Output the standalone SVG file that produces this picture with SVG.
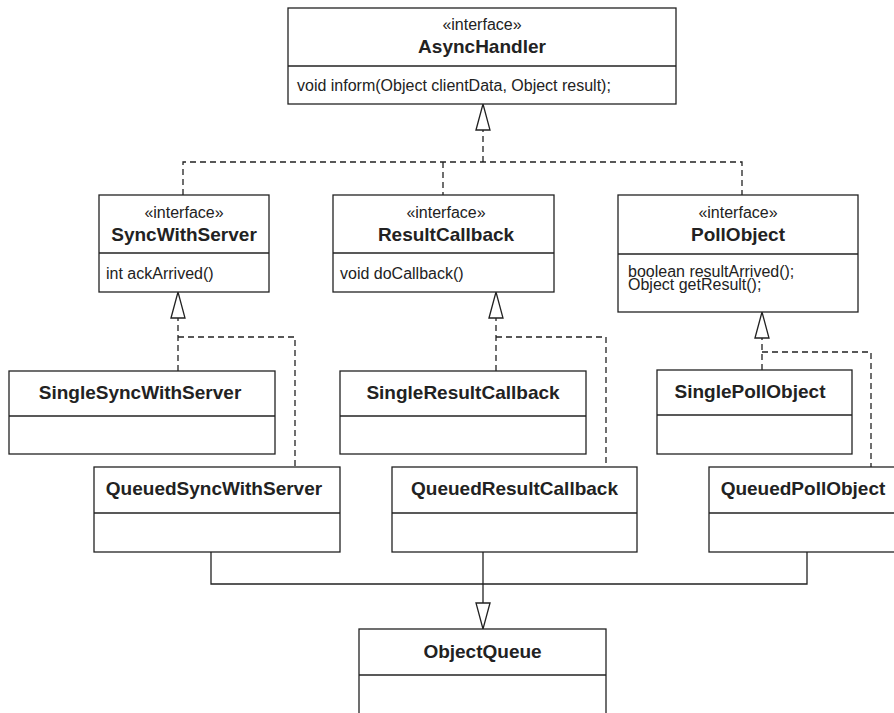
<svg xmlns="http://www.w3.org/2000/svg" width="894" height="713" viewBox="0 0 894 713">
  <style>
    .box { fill: #ffffff; stroke: #222222; stroke-width: 1.3; }
    .sep { stroke: #222222; stroke-width: 1.3; fill: none; }
    .st { font-family: "Liberation Sans", Arial, sans-serif; font-size: 16px; fill: #222222; text-anchor: middle; }
    .nm { font-family: "Liberation Sans", Arial, sans-serif; font-size: 19px; font-weight: bold; fill: #222222; text-anchor: middle; }
    .op { font-family: "Liberation Sans", Arial, sans-serif; font-size: 16px; fill: #222222; }
    .real { fill: none; stroke: #222222; stroke-width: 1.3; stroke-dasharray: 6 4; }
    .assoc { fill: none; stroke: #222222; stroke-width: 1.3; }
  </style>
  <defs>
    <!-- hollow triangle head for realization / generalization -->
    <marker id="hollow" markerUnits="userSpaceOnUse" markerWidth="28" markerHeight="16" viewBox="-1 -1 28 16" refX="26" refY="7" orient="auto">
      <path d="M0,0 L26,7 L0,14 Z" fill="#ffffff" stroke="#222222" stroke-width="1.3" stroke-dasharray="none"/>
    </marker>
  </defs>

  <rect width="894" height="713" fill="#ffffff"/>

  <!-- connectors -->
  <g id="connectors">
    <path class="real" d="M483,162 V104" marker-end="url(#hollow)"/>
    <path class="real" d="M183,195 V162 H742 V195 M443,162 V195"/>

    <path class="real" d="M178,371 V292" marker-end="url(#hollow)"/>
    <path class="real" d="M178,337 H295 V467"/>

    <path class="real" d="M496,371 V292" marker-end="url(#hollow)"/>
    <path class="real" d="M496,337 H606 V467"/>

    <path class="real" d="M762,370 V312" marker-end="url(#hollow)"/>
    <path class="real" d="M762,352 H871 V467"/>

    <path class="assoc" d="M211,552 V584 H807 V552"/>
    <path class="assoc" d="M483,552 V629" marker-end="url(#hollow)"/>
  </g>

  <!-- interfaces -->
  <g id="AsyncHandler">
    <rect class="box" x="288" y="8" width="388" height="96"/>
    <line class="sep" x1="288" y1="66" x2="676" y2="66"/>
    <text class="st" x="482" y="30">«interface»</text>
    <text class="nm" x="482" y="53">AsyncHandler</text>
    <text class="op" x="297" y="91">void inform(Object clientData, Object result);</text>
  </g>

  <g id="SyncWithServer">
    <rect class="box" x="99" y="195" width="170" height="97"/>
    <line class="sep" x1="99" y1="253" x2="269" y2="253"/>
    <text class="st" x="184" y="218">«interface»</text>
    <text class="nm" x="184" y="241">SyncWithServer</text>
    <text class="op" x="106" y="279">int ackArrived()</text>
  </g>

  <g id="ResultCallback">
    <rect class="box" x="333" y="195" width="221" height="97"/>
    <line class="sep" x1="333" y1="253" x2="554" y2="253"/>
    <text class="st" x="446" y="218">«interface»</text>
    <text class="nm" x="446" y="241">ResultCallback</text>
    <text class="op" x="340" y="279">void doCallback()</text>
  </g>

  <g id="PollObject">
    <rect class="box" x="618" y="195" width="240" height="117"/>
    <line class="sep" x1="618" y1="254" x2="858" y2="254"/>
    <text class="st" x="738" y="218">«interface»</text>
    <text class="nm" x="738" y="241">PollObject</text>
    <text class="op" x="628" y="277">boolean resultArrived();</text>
    <text class="op" x="628" y="290">Object getResult();</text>
  </g>

  <!-- implementing classes -->
  <g id="SingleSyncWithServer">
    <rect class="box" x="9" y="371" width="266" height="83"/>
    <line class="sep" x1="9" y1="416" x2="275" y2="416"/>
    <text class="nm" x="140" y="399">SingleSyncWithServer</text>
  </g>

  <g id="SingleResultCallback">
    <rect class="box" x="340" y="371" width="246" height="83"/>
    <line class="sep" x1="340" y1="416" x2="586" y2="416"/>
    <text class="nm" x="463" y="399">SingleResultCallback</text>
  </g>

  <g id="SinglePollObject">
    <rect class="box" x="657" y="370" width="195" height="84"/>
    <line class="sep" x1="657" y1="415" x2="852" y2="415"/>
    <text class="nm" x="750" y="398">SinglePollObject</text>
  </g>

  <g id="QueuedSyncWithServer">
    <rect class="box" x="94" y="467" width="246" height="85"/>
    <line class="sep" x1="94" y1="513" x2="340" y2="513"/>
    <text class="nm" x="214" y="495">QueuedSyncWithServer</text>
  </g>

  <g id="QueuedResultCallback">
    <rect class="box" x="392" y="467" width="245" height="85"/>
    <line class="sep" x1="392" y1="513" x2="637" y2="513"/>
    <text class="nm" x="514.5" y="495">QueuedResultCallback</text>
  </g>

  <g id="QueuedPollObject">
    <rect class="box" x="709" y="467" width="190" height="85"/>
    <line class="sep" x1="709" y1="513" x2="899" y2="513"/>
    <text class="nm" x="803" y="495">QueuedPollObject</text>
  </g>

  <g id="ObjectQueue">
    <rect class="box" x="359" y="629" width="247" height="95"/>
    <line class="sep" x1="359" y1="675" x2="606" y2="675"/>
    <text class="nm" x="482.5" y="658">ObjectQueue</text>
  </g>
</svg>
